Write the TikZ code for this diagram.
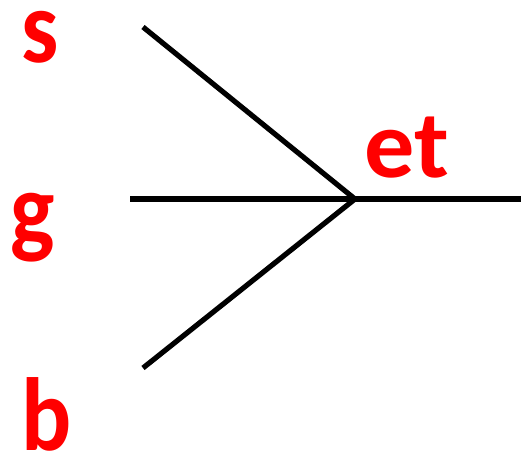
\documentclass[tikz,border=0pt]{standalone}
\usepackage{fontspec}
\setmainfont{Carlito}
\begin{document}
\begin{tikzpicture}[x=0.5pt,y=-0.5pt,
  lbl/.style={text=red,font=\bfseries\fontsize{52}{52}\selectfont,inner sep=0pt,anchor=base,xscale=0.9},
  ln/.style={line width=2.6pt,black}]
\useasboundingbox (0,0) rectangle (521,456);
\coordinate (c) at (355,199);
\coordinate (s0) at (143,27);
\coordinate (g0) at (130,199);
\coordinate (b0) at (143,368);
\coordinate (e) at (521,199);
\draw[ln] (s0) -- (c);
\draw[ln] (g0) -- (e);
\draw[ln] (b0) -- (c);
\node[lbl,text height=0.5em,text depth=0pt] (s) at (40,62) {s};
\node[lbl] (g) at (33,244) {g};
\node[lbl,text height=0.7em,text depth=0pt] (b) at (47,450) {b};
\node[lbl,xscale=1.16,font=\bfseries\fontsize{48}{48}\selectfont,anchor=base west] (et) at (364,177) {et};
\end{tikzpicture}
\end{document}
